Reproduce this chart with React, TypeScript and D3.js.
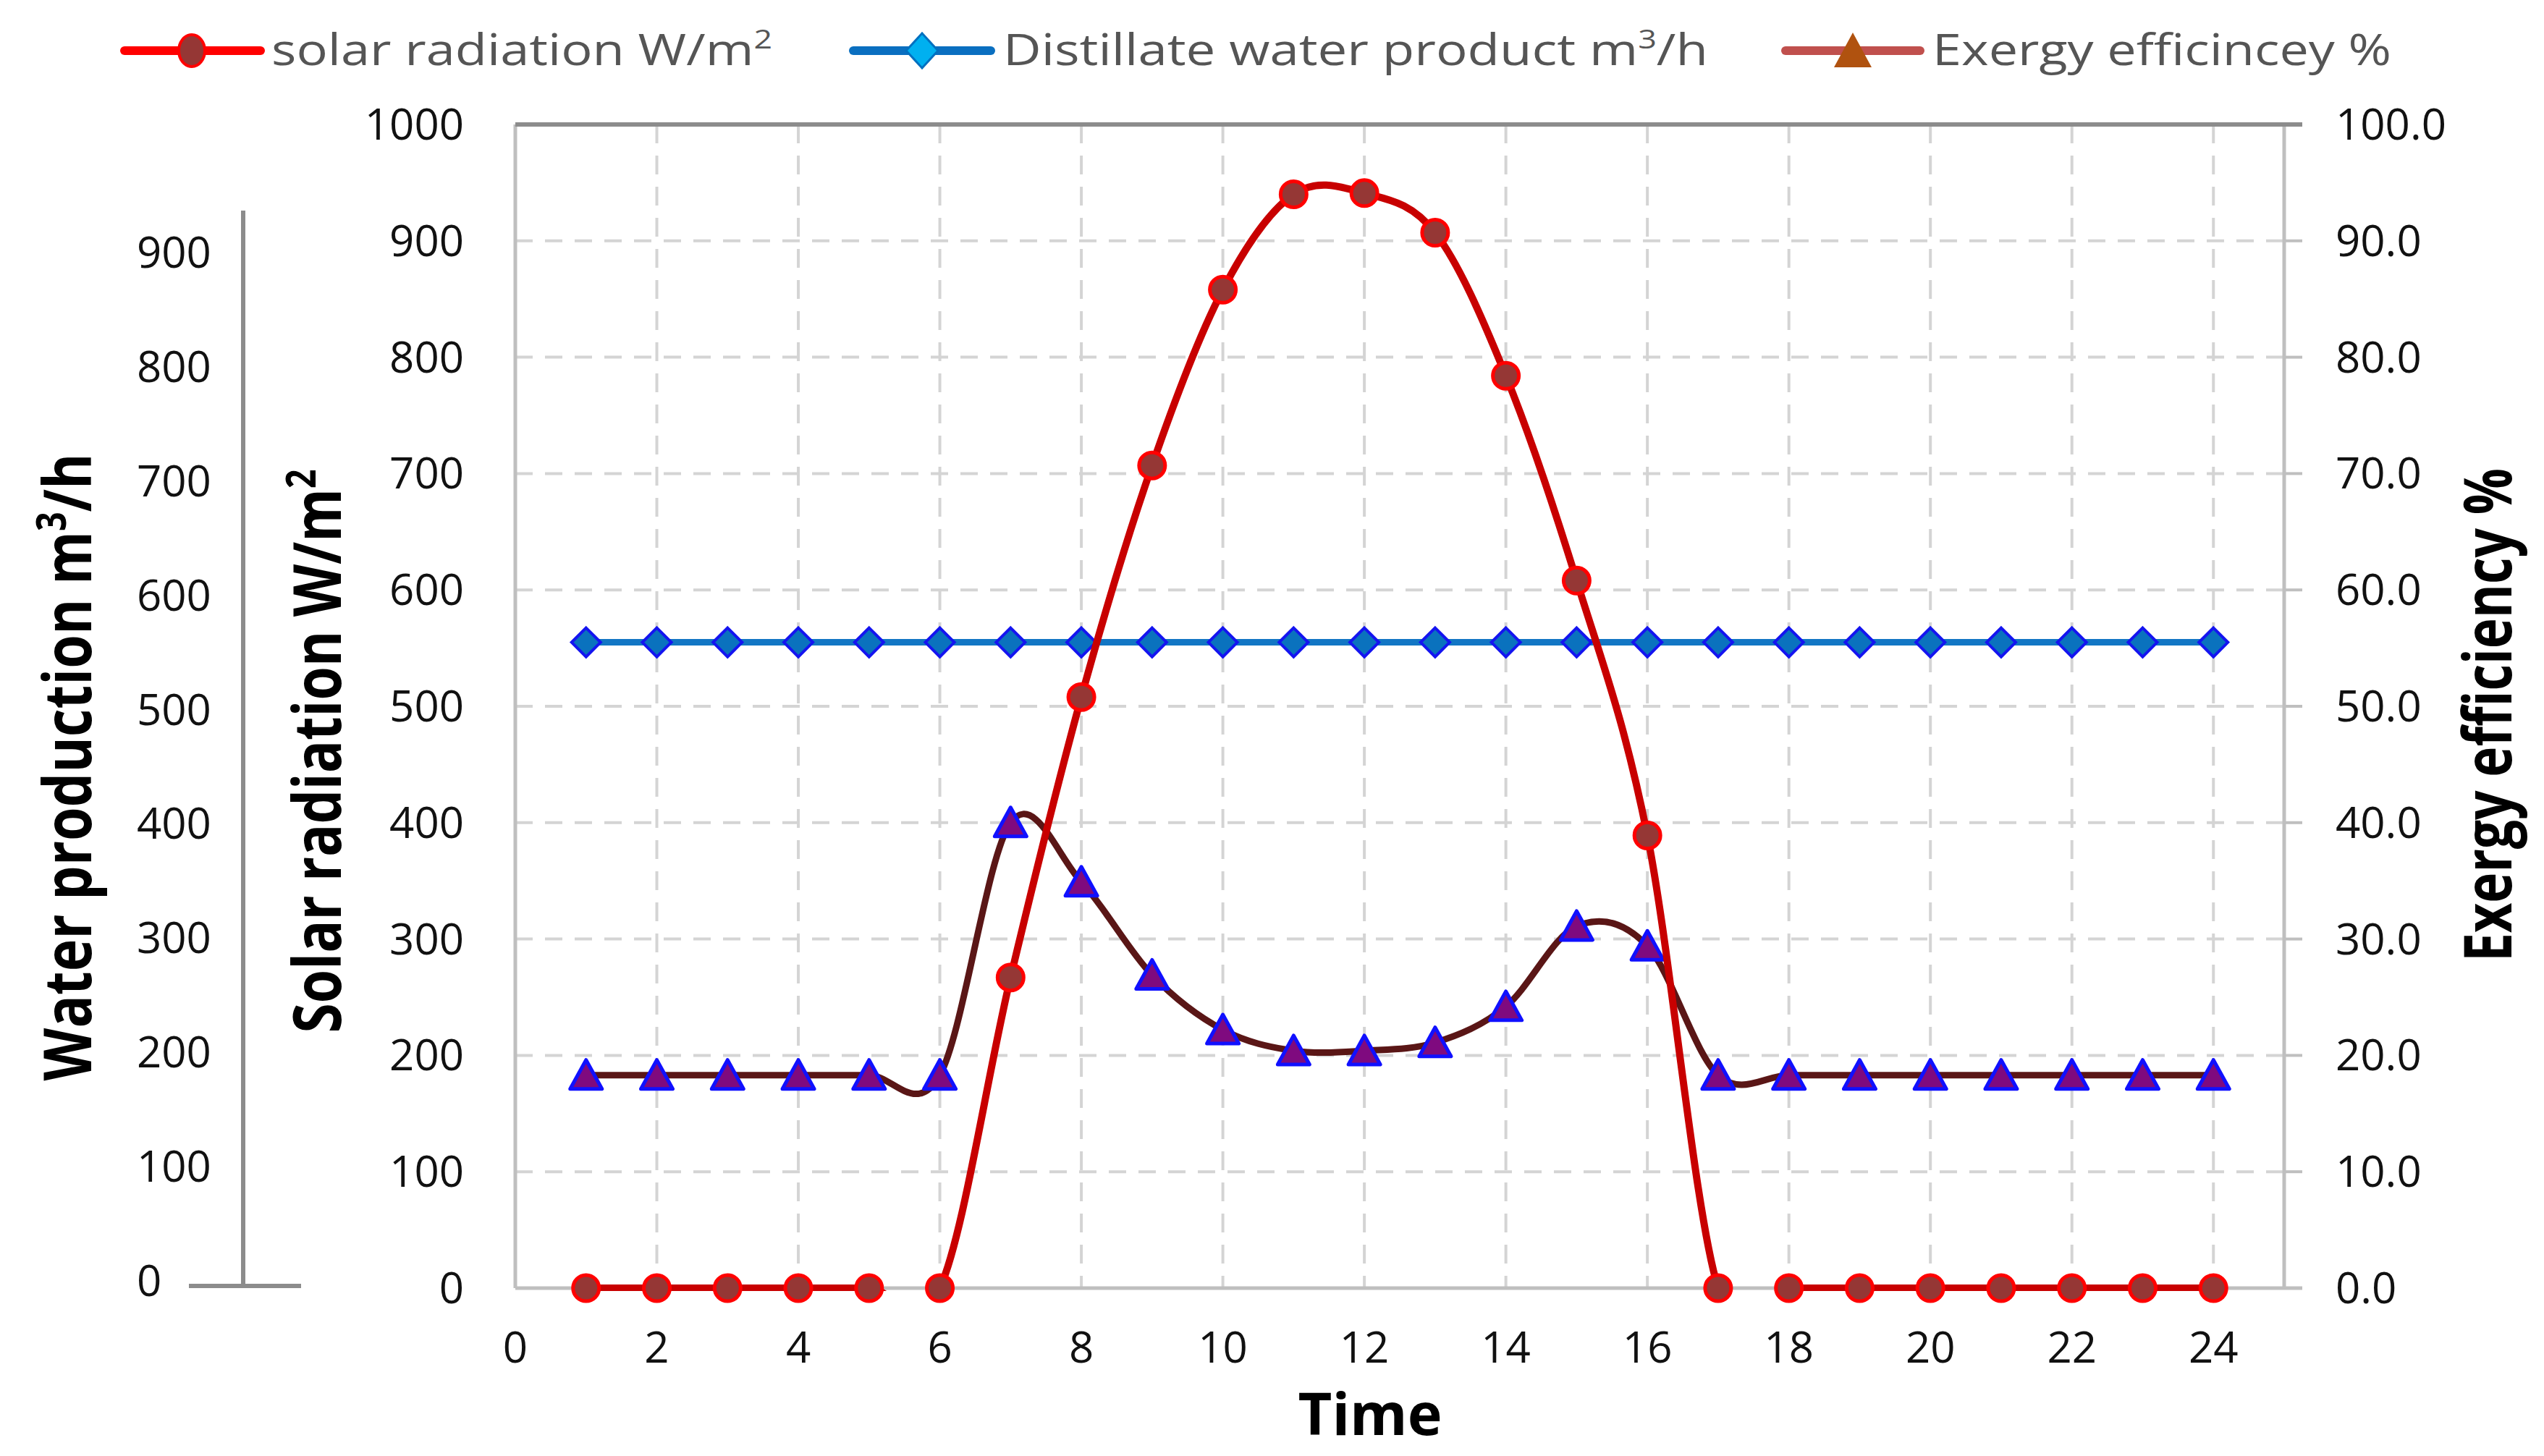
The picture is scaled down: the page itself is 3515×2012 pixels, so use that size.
import { useRef, useEffect } from 'react';
import * as d3 from 'd3';

// hours of the day
const HOURS = [1, 2, 3, 4, 5, 6, 7, 8, 9, 10, 11, 12, 13, 14, 15, 16, 17, 18, 19, 20, 21, 22, 23, 24];

// solar radiation W/m2 (left axis)
const SOLAR = [0, 0, 0, 0, 0, 0, 267, 508, 707, 858, 940, 941, 907, 784, 608, 389, 0, 0, 0, 0, 0, 0, 0, 0];

// distillate water product m3/h (left axis)
const DISTILLATE = [555, 555, 555, 555, 555, 555, 555, 555, 555, 555, 555, 555, 555, 555, 555, 555, 555, 555, 555, 555, 555, 555, 555, 555];

// exergy efficiency % (right axis)
const EXERGY = [18.3, 18.3, 18.3, 18.3, 18.3, 18.3, 40.0, 34.9, 26.9, 22.2, 20.4, 20.4, 21.1, 24.2, 31.1, 29.4, 18.3, 18.3, 18.3, 18.3, 18.3, 18.3, 18.3, 18.3];

const X_TICKS = [0, 2, 4, 6, 8, 10, 12, 14, 16, 18, 20, 22, 24];
const LEFT_TICKS = [0, 100, 200, 300, 400, 500, 600, 700, 800, 900, 1000];
const RIGHT_TICKS = [0, 10, 20, 30, 40, 50, 60, 70, 80, 90, 100];
const WATER_TICKS = [0, 100, 200, 300, 400, 500, 600, 700, 800, 900];

const LEGEND_LABELS = ['solar radiation W/m²', 'Distillate water product m³/h', 'Exergy efficincey %'];

const FONT = '"Open Sans", "Noto Sans", sans-serif';

const SUPER: Record<string, string> = { '²': '2', '³': '3' };

// write a label into a <text>, turning ² and ³ into raised tspans
function richText(sel: d3.Selection<SVGTextElement, any, any, any>, label: string, size: number) {
  const parts = label.split(/([²³])/).filter(p => p !== '');
  parts.forEach(p => {
    if (SUPER[p]) {
      sel.append('tspan')
        .attr('font-size', size * 0.62)
        .attr('baseline-shift', size * 0.38)
        .text(SUPER[p]);
    } else {
      sel.append('tspan').text(p);
    }
  });
}

export default function App() {
  const containerRef = useRef<HTMLDivElement>(null);

  useEffect(() => {
    if (!containerRef.current) return;
    const container = containerRef.current;
    container.innerHTML = '';

    const width = 3515;
    const height = 2012;
    const plot = { left: 712, right: 3156, top: 172, bottom: 1780 };

    const svg = d3.select(container)
      .append('svg')
      .attr('width', width)
      .attr('height', height)
      .style('position', 'absolute')
      .style('left', '0px')
      .style('top', '0px')
      .style('background', '#fff');

    const x = d3.scaleLinear().domain([0, 25]).range([plot.left, plot.right]);
    const yL = d3.scaleLinear().domain([0, 1000]).range([plot.bottom, plot.top]);
    const yR = d3.scaleLinear().domain([0, 100]).range([plot.bottom, plot.top]);
    // the pasted water production axis is a little off the main one
    const yW = d3.scaleLinear().domain([0, 900]).range([1770, 349]);

    svg.append('defs').append('clipPath').attr('id', 'plot-clip')
      .append('rect')
      .attr('x', plot.left).attr('y', plot.top - 4)
      .attr('width', plot.right - plot.left).attr('height', plot.bottom - plot.top + 8);

    // Grid
    const grid = svg.append('g').attr('stroke', '#d4d4d4').attr('stroke-width', 4);
    grid.selectAll('line.h')
      .data(LEFT_TICKS.filter(v => v > 0 && v < 1000))
      .join('line')
      .attr('x1', plot.left).attr('x2', plot.right)
      .attr('y1', d => yL(d)).attr('y2', d => yL(d))
      .attr('stroke-dasharray', '24,17');
    grid.selectAll('line.v')
      .data(X_TICKS.filter(v => v > 0))
      .join('line')
      .attr('x1', d => x(d)).attr('x2', d => x(d))
      .attr('y1', plot.top).attr('y2', plot.bottom)
      .attr('stroke-dasharray', '26,17');

    // Axes frame
    svg.append('line')
      .attr('x1', plot.left).attr('x2', plot.left)
      .attr('y1', plot.top).attr('y2', plot.bottom)
      .attr('stroke', '#bfbfbf').attr('stroke-width', 5);
    svg.append('line')
      .attr('x1', plot.right).attr('x2', plot.right)
      .attr('y1', plot.top).attr('y2', plot.bottom)
      .attr('stroke', '#bfbfbf').attr('stroke-width', 5);
    svg.append('g')
      .selectAll('line')
      .data(RIGHT_TICKS)
      .join('line')
      .attr('x1', plot.right).attr('x2', plot.right + 25)
      .attr('y1', d => yR(d)).attr('y2', d => yR(d))
      .attr('stroke', '#bfbfbf').attr('stroke-width', 4);
    svg.append('line')
      .attr('x1', plot.left).attr('x2', plot.right + 25)
      .attr('y1', plot.bottom).attr('y2', plot.bottom)
      .attr('stroke', '#bfbfbf').attr('stroke-width', 5);
    svg.append('line')
      .attr('x1', plot.left).attr('x2', plot.right + 25)
      .attr('y1', plot.top).attr('y2', plot.top)
      .attr('stroke', '#8c8c8c').attr('stroke-width', 6);

    // Tick labels
    const tickText = (g: d3.Selection<SVGGElement, unknown, null, undefined>) =>
      g.attr('font-family', FONT).attr('font-size', 60).attr('fill', '#111');

    svg.append('g').call(tickText)
      .attr('text-anchor', 'middle')
      .selectAll('text')
      .data(X_TICKS)
      .join('text')
      .attr('x', d => x(d)).attr('y', 1883)
      .text(d => String(d));

    svg.append('g').call(tickText)
      .attr('text-anchor', 'end')
      .selectAll('text')
      .data(LEFT_TICKS)
      .join('text')
      .attr('x', 641).attr('y', d => yL(d) + 21)
      .text(d => String(d));

    svg.append('g').call(tickText)
      .attr('text-anchor', 'start')
      .selectAll('text')
      .data(RIGHT_TICKS)
      .join('text')
      .attr('x', 3227).attr('y', d => yR(d) + 21)
      .text(d => d3.format('.1f')(d));

    // Water production axis (far left)
    svg.append('line')
      .attr('x1', 336).attr('x2', 336)
      .attr('y1', 291).attr('y2', 1777)
      .attr('stroke', '#8c8c8c').attr('stroke-width', 6);
    svg.append('line')
      .attr('x1', 261).attr('x2', 416)
      .attr('y1', 1777).attr('y2', 1777)
      .attr('stroke', '#8c8c8c').attr('stroke-width', 6);
    svg.append('g').call(tickText)
      .attr('text-anchor', 'start')
      .selectAll('text')
      .data(WATER_TICKS)
      .join('text')
      .attr('x', 189).attr('y', d => yW(d) + 21)
      .text(d => String(d));

    // Axis titles
    const title = (label: string, tx: number, ty: number, len: number) => {
      const t = svg.append('text')
        .attr('transform', `translate(${tx},${ty}) rotate(-90)`)
        .attr('text-anchor', 'middle')
        .attr('font-family', FONT).attr('font-weight', 700).attr('font-size', 91)
        .attr('fill', '#000')
        .attr('textLength', len).attr('lengthAdjust', 'spacingAndGlyphs');
      richText(t, label, 91);
    };
    title('Water production m³/h', 126, 1060, 867);
    title('Solar radiation W/m²', 471, 1038, 779);
    title('Exergy efficiency %', 3470, 988, 682);

    svg.append('text')
      .attr('x', 1893).attr('y', 1983)
      .attr('text-anchor', 'middle')
      .attr('font-family', FONT).attr('font-weight', 700).attr('font-size', 81)
      .attr('fill', '#000')
      .text('Time');

    // Series
    const curve = d3.curveCatmullRom.alpha(0);
    const lineL = d3.line<number>().x((_, i) => x(HOURS[i])).y(d => yL(d)).curve(curve);
    const lineR = d3.line<number>().x((_, i) => x(HOURS[i])).y(d => yR(d)).curve(curve);

    const diamond = 'M0,-20L20,0L0,20L-20,0Z';
    const triangle = 'M0,-21L22,19L-22,19Z';

    // exergy
    svg.append('path')
      .datum(EXERGY)
      .attr('clip-path', 'url(#plot-clip)')
      .attr('fill', 'none').attr('stroke', '#5a1616').attr('stroke-width', 9)
      .attr('d', lineR);
    svg.append('g')
      .selectAll('path')
      .data(EXERGY)
      .join('path')
      .attr('transform', (d, i) => `translate(${x(HOURS[i])},${yR(d)})`)
      .attr('d', triangle)
      .attr('fill', '#7f0a7f').attr('stroke', '#1010ff').attr('stroke-width', 5)
      .attr('stroke-linejoin', 'round');

    // distillate
    svg.append('path')
      .datum(DISTILLATE)
      .attr('clip-path', 'url(#plot-clip)')
      .attr('fill', 'none').attr('stroke', '#1276c4').attr('stroke-width', 9)
      .attr('d', lineL);
    svg.append('g')
      .selectAll('path')
      .data(DISTILLATE)
      .join('path')
      .attr('transform', (d, i) => `translate(${x(HOURS[i])},${yL(d)})`)
      .attr('d', diamond)
      .attr('fill', '#0a72be').attr('stroke', '#1414f0').attr('stroke-width', 4);

    // solar
    svg.append('path')
      .datum(SOLAR)
      .attr('clip-path', 'url(#plot-clip)')
      .attr('fill', 'none').attr('stroke', '#c80000').attr('stroke-width', 10)
      .attr('d', lineL);
    svg.append('g')
      .selectAll('circle')
      .data(SOLAR)
      .join('circle')
      .attr('cx', (_, i) => x(HOURS[i])).attr('cy', d => yL(d))
      .attr('r', 18)
      .attr('fill', '#953735').attr('stroke', '#ff0000').attr('stroke-width', 5);

    // Legend
    const legendY = 70;
    const lg = svg.append('g');
    lg.append('line').attr('x1', 172).attr('x2', 360).attr('y1', legendY).attr('y2', legendY)
      .attr('stroke', '#ff0000').attr('stroke-width', 12).attr('stroke-linecap', 'round');
    lg.append('ellipse').attr('cx', 265).attr('cy', legendY).attr('rx', 18).attr('ry', 22)
      .attr('fill', '#953735').attr('stroke', '#ff0000').attr('stroke-width', 4);

    lg.append('line').attr('x1', 1179).attr('x2', 1369).attr('y1', legendY).attr('y2', legendY)
      .attr('stroke', '#0a6fc0').attr('stroke-width', 12).attr('stroke-linecap', 'round');
    lg.append('path').attr('transform', `translate(1274,${legendY})`)
      .attr('d', 'M0,-24L22,0L0,24L-22,0Z')
      .attr('fill', '#00b0f0').attr('stroke', '#0070c0').attr('stroke-width', 3);

    lg.append('line').attr('x1', 2467).attr('x2', 2653).attr('y1', legendY).attr('y2', legendY)
      .attr('stroke', '#c0504d').attr('stroke-width', 12).attr('stroke-linecap', 'round');
    lg.append('path').attr('transform', `translate(2560,${legendY})`)
      .attr('d', 'M0,-25L26,23L-26,23Z')
      .attr('fill', '#b0520f');

    const legendX = [375, 1386, 2670];
    const legendLen = [692, 974, 634];
    LEGEND_LABELS.forEach((label, i) => {
      const t = lg.append('text')
        .attr('x', legendX[i]).attr('y', 90)
        .attr('font-family', FONT).attr('font-size', 60).attr('fill', '#555')
        .attr('textLength', legendLen[i]).attr('lengthAdjust', 'spacingAndGlyphs');
      richText(t, label, 60);
    });
  }, []);

  return <div ref={containerRef} />;
}
